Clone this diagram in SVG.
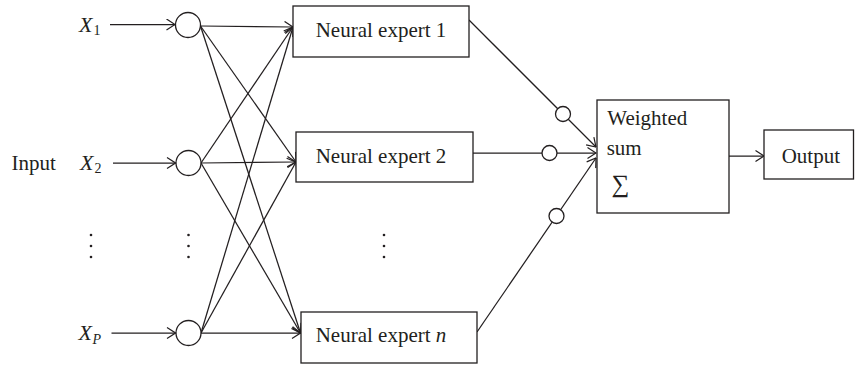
<svg xmlns="http://www.w3.org/2000/svg" width="855" height="366" viewBox="0 0 855 366">
  <defs>
    <marker id="arr" viewBox="0 0 10 12" markerWidth="10" markerHeight="12" refX="9.5" refY="6" orient="auto" markerUnits="userSpaceOnUse">
      <path d="M1,0.5 L9.5,6 L1,11.5" fill="none" stroke="#231f20" stroke-width="1.2"/>
    </marker>
  </defs>
  <style>
    .ln { stroke: #231f20; stroke-width: 1.25; fill: none; }
    .box { fill: #ffffff; stroke: #231f20; stroke-width: 1.3; }
    .nd { fill: #ffffff; stroke: #231f20; stroke-width: 1.3; }
    .t { font-family: "Liberation Serif", "Times New Roman", serif; font-size: 21px; fill: #231f20; }
    .it { font-style: italic; }
    .sub { font-size: 14px; }
    .dot { fill: #231f20; }
  </style>

  <g id="connectors">
    <!-- input arrows -->
    <line class="ln" x1="110" y1="24.5" x2="175" y2="24.5" marker-end="url(#arr)"/>
    <line class="ln" x1="113" y1="163" x2="175.5" y2="163" marker-end="url(#arr)"/>
    <line class="ln" x1="111.5" y1="333" x2="175.5" y2="333" marker-end="url(#arr)"/>
    <!-- from circle 1 -->
    <line class="ln" x1="200.5" y1="26" x2="293" y2="27" marker-end="url(#arr)"/>
    <line class="ln" x1="200.5" y1="26" x2="296" y2="162" marker-end="url(#arr)"/>
    <line class="ln" x1="200.5" y1="26" x2="300.5" y2="333" marker-end="url(#arr)"/>
    <!-- from circle 2 -->
    <line class="ln" x1="201" y1="163" x2="293" y2="27" marker-end="url(#arr)"/>
    <line class="ln" x1="201" y1="163" x2="296" y2="162" marker-end="url(#arr)"/>
    <line class="ln" x1="201" y1="163" x2="300.5" y2="333" marker-end="url(#arr)"/>
    <!-- from circle P -->
    <line class="ln" x1="201" y1="333" x2="293" y2="27" marker-end="url(#arr)"/>
    <line class="ln" x1="201" y1="333" x2="296" y2="162" marker-end="url(#arr)"/>
    <line class="ln" x1="201" y1="333" x2="300.5" y2="333" marker-end="url(#arr)"/>
    <!-- experts to weighted sum -->
    <line class="ln" x1="469" y1="20" x2="596" y2="147" marker-end="url(#arr)"/>
    <line class="ln" x1="473" y1="153" x2="596" y2="153" marker-end="url(#arr)"/>
    <line class="ln" x1="477" y1="332" x2="596" y2="158" marker-end="url(#arr)"/>
    <!-- weighted sum to output -->
    <line class="ln" x1="729" y1="156" x2="764" y2="156" marker-end="url(#arr)"/>
  </g>

  <g id="gate1"><circle class="nd" cx="563" cy="114" r="7.5"/></g>
  <g id="gate2"><circle class="nd" cx="549.5" cy="153" r="7.5"/></g>
  <g id="gaten"><circle class="nd" cx="556.5" cy="216" r="7.5"/></g>

  <g id="input-label"><text class="t" x="11.5" y="170">Input</text></g>

  <g id="x1">
    <text class="t it" x="79" y="31.7" style="font-size:22px">X</text>
    <text class="t sub" x="93.5" y="35">1</text>
    <circle class="nd" cx="188" cy="25" r="12.5"/>
  </g>
  <g id="x2">
    <text class="t it" x="80" y="170" style="font-size:22px">X</text>
    <text class="t sub" x="94.5" y="173">2</text>
    <circle class="nd" cx="188.5" cy="163" r="12.5"/>
  </g>
  <g id="xp">
    <text class="t it" x="78.5" y="339.5" style="font-size:22px">X</text>
    <text class="t it sub" x="92.5" y="344">P</text>
    <circle class="nd" cx="188.5" cy="333" r="12.5"/>
  </g>

  <g id="ellipses">
    <circle class="dot" cx="91" cy="235" r="1.3"/>
    <circle class="dot" cx="91" cy="246" r="1.3"/>
    <circle class="dot" cx="91" cy="257" r="1.3"/>
    <circle class="dot" cx="188.5" cy="235" r="1.3"/>
    <circle class="dot" cx="188.5" cy="246" r="1.3"/>
    <circle class="dot" cx="188.5" cy="257" r="1.3"/>
    <circle class="dot" cx="384" cy="235" r="1.3"/>
    <circle class="dot" cx="384" cy="246" r="1.3"/>
    <circle class="dot" cx="384" cy="257" r="1.3"/>
  </g>

  <g id="expert1">
    <rect class="box" x="293" y="6" width="176" height="51"/>
    <text class="t" x="315.7" y="36.5">Neural expert 1</text>
  </g>
  <g id="expert2">
    <rect class="box" x="296" y="132" width="177" height="50"/>
    <text class="t" x="315.7" y="163.3">Neural expert 2</text>
  </g>
  <g id="expertn">
    <rect class="box" x="301" y="312" width="176" height="51"/>
    <text class="t" x="315.7" y="341.7">Neural expert <tspan class="it">n</tspan></text>
  </g>

  <g id="weighted-sum">
    <rect class="box" x="597" y="100" width="132" height="113"/>
    <text class="t" x="607.3" y="125">Weighted</text>
    <text class="t" x="606.7" y="155">sum</text>
    <text class="t" x="611.5" y="191.7" style="font-size:25px">∑</text>
  </g>

  <g id="output">
    <rect class="box" x="764" y="130" width="89.5" height="49"/>
    <text class="t" x="781.7" y="162.5">Output</text>
  </g>
</svg>
